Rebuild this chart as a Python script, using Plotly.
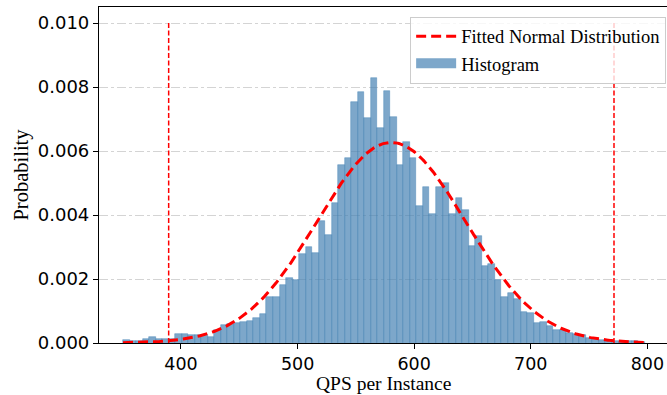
import numpy as np
import plotly.graph_objects as go

# ---- data ----
bin_first_edge = 350.3
bin_last_edge = 797.6
density = [
    0.00010, 0.00005, 0.00006, 0.00013, 0.00020, 0.00012, 0.00012, 0.00012,
    0.00027, 0.00027, 0.00025, 0.00025, 0.00026, 0.00019, 0.00040, 0.00057,
    0.00060, 0.00062, 0.00067, 0.00070, 0.00079, 0.00092, 0.00145, 0.00145,
    0.00182, 0.00204, 0.00196, 0.00279, 0.00301, 0.00280, 0.00382, 0.00336,
    0.00438, 0.00557, 0.00578, 0.00754, 0.00785, 0.00704, 0.00829, 0.00673,
    0.00788, 0.00707, 0.00557, 0.00629, 0.00579, 0.00429, 0.00489, 0.00404,
    0.00489, 0.00501, 0.00404, 0.00454, 0.00417, 0.00304, 0.00335, 0.00242,
    0.00248, 0.00198, 0.00145, 0.00157, 0.00138, 0.00098, 0.00095, 0.00064,
    0.00067, 0.00052, 0.00040, 0.00041, 0.00031, 0.00027, 0.00025, 0.00015,
    0.00014, 0.00010, 0.00010, 0.00007, 0.00004, 0.00005, 0.00005, 0.00004,
]
fit_mean = 580.4
fit_std = 63.65
vline_top = 0.010
x_ticks = [400, 500, 600, 700, 800]
y_ticks = [0.000, 0.002, 0.004, 0.006, 0.008, 0.010]
x_title = "QPS per Instance"
y_title = "Probability"

# ---- derived ----
n_bins = len(density)
edges = np.linspace(bin_first_edge, bin_last_edge, n_bins + 1)
centers = (edges[:-1] + edges[1:]) / 2
width = edges[1] - edges[0]

xs = np.linspace(bin_first_edge, bin_last_edge, 400)
pdf = np.exp(-0.5 * ((xs - fit_mean) / fit_std) ** 2) / (fit_std * np.sqrt(2 * np.pi))
lo = fit_mean - 3 * fit_std
hi = fit_mean + 3 * fit_std

serif = "Liberation Serif, Times New Roman, serif"
sans = "DejaVu Sans, sans-serif"
bar_color = "rgba(70,130,180,0.7)"

fig = go.Figure()
fig.add_trace(go.Bar(
    x=centers, y=density, width=width,
    marker=dict(color=bar_color,
                line=dict(color="rgba(70,130,180,0.75)", width=0.6)),
    name="Histogram", showlegend=False,
))
fig.add_trace(go.Scatter(
    x=xs, y=pdf, mode="lines",
    line=dict(color="red", width=3, dash="10px,5px"),
    name="Fitted Normal Distribution", legendrank=1,
))
for xv in (lo, hi):
    fig.add_trace(go.Scatter(
        x=[xv, xv], y=[0, vline_top], mode="lines",
        line=dict(color="red", width=1.5, dash="5px,2.5px"),
        showlegend=False, hoverinfo="skip",
    ))
# legend proxy for the histogram (wide patch like matplotlib)
fig.add_trace(go.Scatter(
    x=[None], y=[None], mode="lines",
    line=dict(color=bar_color, width=12),
    name="Histogram", legendrank=2,
))

fig.update_layout(
    width=667, height=395,
    margin=dict(l=99, r=0, t=7, b=52),
    plot_bgcolor="white", paper_bgcolor="white",
    bargap=0,
    legend=dict(
        x=0.9985, y=0.971, xanchor="right", yanchor="top",
        bgcolor="rgba(255,255,255,0.8)", bordercolor="#cccccc", borderwidth=1,
        font=dict(family=serif, size=18.5, color="black"),
        tracegroupgap=0, itemwidth=40,
    ),
    xaxis=dict(
        range=[329.7, 816.8], tickvals=x_ticks, automargin=False,
        showline=True, linecolor="black", linewidth=1.2, mirror=True,
        ticks="outside", ticklen=5, tickcolor="black",
        showgrid=False, zeroline=False,
        tickfont=dict(family=sans, size=17.5, color="black"),
    ),
    yaxis=dict(
        range=[0, 0.0105], tickvals=y_ticks, tickformat=".3f", automargin=False,
        showline=True, linecolor="black", linewidth=1.2,
        ticks="outside", ticklen=5, tickcolor="black",
        showgrid=True, gridcolor="#d4d4d4", gridwidth=1, griddash="dashdot",
        zeroline=False,
        tickfont=dict(family=sans, size=18, color="black"),
        title=dict(text=y_title, font=dict(family=serif, size=20.5, color="black"), standoff=3),
    ),
    annotations=[dict(
        text=x_title, xref="paper", yref="paper", x=0.5, y=-0.1545,
        xanchor="center", yanchor="bottom", showarrow=False, borderpad=0,
        font=dict(family=serif, size=19.5, color="black"),
    )],
)

fig.write_html("out.html")
